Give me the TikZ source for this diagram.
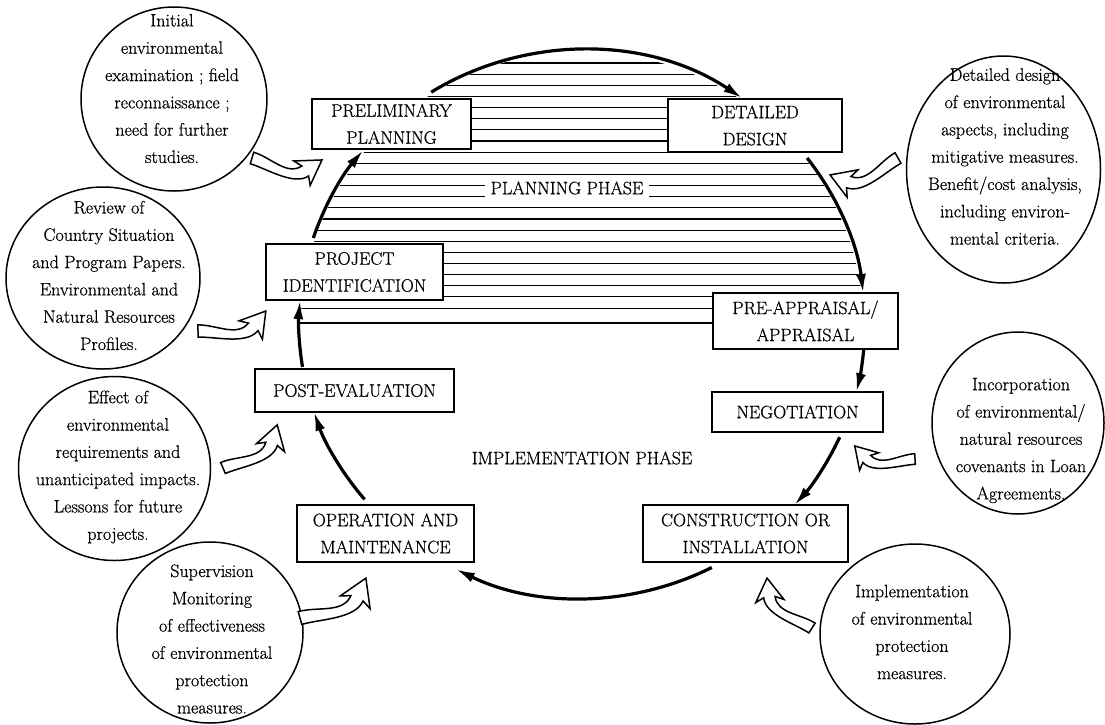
\documentclass[tikz,border=0pt]{standalone}
\usepackage{fontspec}
\setmainfont{Latin Modern Roman}[FakeBold=0.6]
\usetikzlibrary{arrows.meta}

% hollow curved arrow: tail at (#1,#2), rotation #3, xscale #4, yscale #5
\newcommand{\hollowarrow}[5]{%
  \begin{scope}[shift={(#1,#2)},rotate=#3,xscale=#4,yscale=#5]
    \draw[hollow] (1.6,-5.8) .. controls (18.9,-1.1) and (35.4,16.9) .. (50.1,6.6)
      -- (41.8,1.8) -- (70,0) -- (58.9,25.8) -- (57.1,16.4)
      .. controls (42.4,26.7) and (15.8,10.5) .. (-1.6,5.8) -- cycle;
  \end{scope}}

\begin{document}
\begin{tikzpicture}[x=1pt,y=-1pt,
  cyc/.style={line width=3.2pt,-{Latex[length=19pt,width=10pt]}},
  boxst/.style={draw,line width=1.4pt,fill=white,align=center,inner sep=0pt,
    font=\fontsize{18}{27}\selectfont},
  bubble/.style={align=center,inner sep=0pt,font=\fontsize{18}{27.3}\selectfont},
  rim/.style={line width=1.5pt},
  hatch/.style={line width=1.1pt},
  hollow/.style={line width=1.5pt,fill=white,line join=miter},
  phase/.style={font=\fontsize{18}{22}\selectfont,inner sep=0pt}]

\fill[white] (0,0) rectangle (1105,724);
\useasboundingbox (0,0) rectangle (1105,724);

\coordinate (ctr) at (582,324);

% ruled planning area
\begin{scope}
  \clip (ctr) ellipse[x radius=281, y radius=272];
  \clip (0,50) rectangle (1105,318);
  \foreach \k in {0,...,22}
    \draw[hatch] (250,{63+11.14*\k}) -- (900,{63+11.14*\k});
\end{scope}

% project cycle boxes
\node[boxst,minimum width=159pt,minimum height=50pt] (prelim) at (391.5,124) {PRELIMINARY\\PLANNING};
\node[boxst,minimum width=174pt,minimum height=53pt] (detail) at (755,125.5) {DETAILED\\DESIGN};
\node[boxst,minimum width=177pt,minimum height=56pt] (projid) at (354.5,272) {PROJECT\\IDENTIFICATION};
\node[boxst,minimum width=185pt,minimum height=56pt] (preapp) at (805.5,321) {PRE-APPRAISAL/\\APPRAISAL};
\node[boxst,minimum width=171pt,minimum height=40pt] (negot) at (797.5,412) {NEGOTIATION};
\node[boxst,minimum width=205pt,minimum height=57pt] (constr) at (745.5,533.5) {CONSTRUCTION OR\\INSTALLATION};
\node[boxst,minimum width=177pt,minimum height=57pt] (oper) at (385.5,533.5) {OPERATION AND\\MAINTENANCE};
\node[boxst,minimum width=199pt,minimum height=43pt] (posteval) at (354.5,390.5) {POST-EVALUATION};

% lower edge of the planning area
\coordinate (hl) at (300,323);
\draw[line width=2.2pt] (hl) -- (hl -| preapp.west);

% phase labels
\node[phase,fill=white,inner xsep=6pt,inner ysep=4pt] (plan) at (567,188) {PLANNING PHASE};
\node[phase] (impl) at (582,458) {IMPLEMENTATION PHASE};

% cycle arrows on the ellipse
\foreach \n/\a in {s1/198.3,s2/237.8,s3/322.7,s4/5.2,s5/24.4,s6/62.7,s7/140.2,s8/171}
  \coordinate (\n) at ({582+283*cos(\a)},{324+274*sin(\a)});
\draw[cyc] (s1) arc[start angle=198.3,end angle=219.4,x radius=283,y radius=274];
\draw[cyc] (s2) arc[start angle=237.8,end angle=304.5,x radius=283,y radius=274];
\draw[cyc] (s3) arc[start angle=322.7,end angle=353.5,x radius=283,y radius=274];
\draw[cyc] (s4) arc[start angle=5.2,end angle=14.4,x radius=283,y radius=274];
\draw[cyc] (s5) arc[start angle=24.4,end angle=41.4,x radius=283,y radius=274];
\draw[cyc] (s6) arc[start angle=62.7,end angle=116.5,x radius=283,y radius=274];
\draw[cyc] (s7) arc[start angle=140.2,end angle=161.3,x radius=283,y radius=274];
\draw[cyc] (s8) arc[start angle=171,end angle=185,x radius=283,y radius=274];

% environmental input bubbles
\draw[rim] (174,99) ellipse[x radius=93, y radius=92];
\node[bubble] (b1) at (172,88.5) {Initial\\environmental\\examination ; field\\reconnaissance ;\\need for further\\studies.};

\draw[rim] (103,278) ellipse[x radius=97, y radius=91];
\node[bubble] (b2) at (109,275.5) {Review of\\Country Situation\\and Program Papers.\\Environmental and\\Natural Resources\\Profiles.};

\draw[rim] (114.5,468.5) ellipse[x radius=96, y radius=92];
\node[bubble] (b3) at (118,467) {Effect of\\environmental\\requirements and\\unanticipated impacts.\\Lessons for future\\projects.};

\draw[rim] (210,632.5) ellipse[x radius=93, y radius=90.5];
\node[bubble] (b4) at (212,639) {Supervision\\Monitoring\\of effectiveness\\of environmental\\protection\\measures.};

\draw[rim] (1003.5,169.5) ellipse[x radius=97, y radius=113.5];
\node[bubble] (b5) at (1005,156.5) {Detailed design\\of environmental\\aspects, including\\mitigative measures.\\Benefit/cost analysis,\\including environ-\\mental criteria.};

\draw[rim] (1018,423) ellipse[x radius=86, y radius=91];
\node[bubble] (b6) at (1021,440.5) {Incorporation\\of environmental/\\natural resources\\covenants in Loan\\Agreements.};

\draw[rim] (915,634) ellipse[x radius=95, y radius=90];
\node[bubble] (b7) at (912,632) {Implementation\\of environmental\\protection\\measures.};

% hollow arrows from bubbles to stages
\hollowarrow{252}{158}{-1.6}{1}{1}
\hollowarrow{198}{331}{16.4}{1.01}{1.01}
\hollowarrow{223}{468}{38.5}{0.99}{0.99}
\hollowarrow{300}{618}{31.2}{1.1}{1.1}
\hollowarrow{812}{628}{132}{0.96}{-0.96}
\hollowarrow{915}{459}{167.8}{0.88}{-0.88}
\hollowarrow{898}{158}{194}{1.0}{-1.0}

\end{tikzpicture}
\end{document}
